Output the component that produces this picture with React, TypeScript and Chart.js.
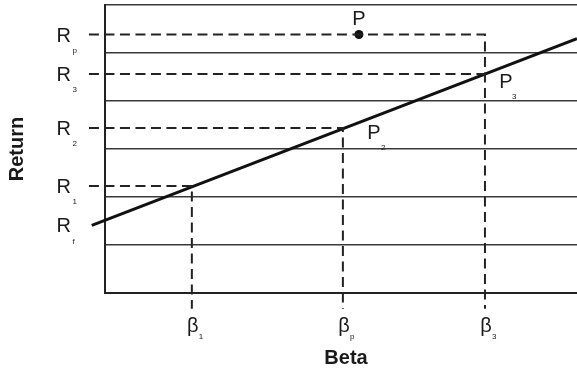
import React, { useEffect, useRef } from 'react';
import { Chart, registerables } from 'chart.js';

Chart.register(...registerables);

// Y axis: return levels (data units; grid at integers 0..6)
const gridReturns = [0, 1, 2, 3, 4, 5, 6];
const returnSubs = ['p', '3', '2', '1', 'f'];
const returnLevels = [5.385, 4.56, 3.44, 2.23, 1.41];
// X axis: beta levels
const betaSubs = ['1', 'p', '3'];
const betaLevels = [1.84, 5.04, 8.05];
// Security market line endpoints
const smlBeta = [-0.28, 10];
const smlReturn = [1.41, 5.3];
// Portfolio P
const pBeta = [5.38];
const pReturn = [5.385];
// Dashed guide extents
const guideLeft = -0.34;
const guideBottom = -0.33;
// Point labels
const pointNames = ['P', 'P', 'P'];
const pointSubs = ['', '2', '3'];

const FONT = '"Liberation Sans", Arial, Helvetica, sans-serif';
const INK = '#1a1a1a';

const [Rp, R3, R2, R1, Rf] = returnLevels;
const [B1, Bp, B3] = betaLevels;

const dashStyle = {
  showLine: true,
  pointRadius: 0,
  borderColor: '#222',
  borderWidth: 2,
  borderDash: [10, 5.5],
  borderCapStyle: 'butt' as const,
  clip: false as any,
  fill: false,
  tension: 0,
};

const labelPlugin = {
  id: 'smlLabels',
  afterDatasetsDraw(chart: any) {
    const { ctx, scales } = chart;
    const x = scales.x;
    const y = scales.y;
    ctx.save();
    ctx.fillStyle = INK;
    ctx.textBaseline = 'middle';
    const main = `20px ${FONT}`;
    const small = `8px ${FONT}`;
    // Return labels
    returnSubs.forEach((s, i) => {
      const py = y.getPixelForValue(returnLevels[i]);
      ctx.font = main;
      ctx.textAlign = 'right';
      ctx.fillText('R', x.left - 34, py + 1.5);
      ctx.font = small;
      ctx.textAlign = 'left';
      ctx.fillText(s, x.left - 32.5, py + 16);
    });
    // Beta labels
    betaSubs.forEach((s, i) => {
      const px = x.getPixelForValue(betaLevels[i]);
      ctx.font = main;
      ctx.textAlign = 'center';
      ctx.fillText('\u03B2', px + 1, y.bottom + 33);
      ctx.font = small;
      ctx.textAlign = 'left';
      ctx.fillText(s, px + 7, y.bottom + 44);
    });
    // Point labels
    const pts = [
      [pBeta[0], pReturn[0], 0, -15, 0, 0],
      [Bp, R2, 31, 6, 38, 20],
      [B3, R3, 21, 8.5, 27, 23],
    ];
    pts.forEach((p, i) => {
      const px = x.getPixelForValue(p[0]);
      const py = y.getPixelForValue(p[1]);
      ctx.font = main;
      ctx.textAlign = 'center';
      ctx.fillText(pointNames[i], px + p[2], py + p[3]);
      if (pointSubs[i]) {
        ctx.font = small;
        ctx.textAlign = 'left';
        ctx.fillText(pointSubs[i], px + p[4], py + p[5]);
      }
    });
    // Axis titles
    ctx.font = `bold 20px ${FONT}`;
    ctx.textAlign = 'center';
    ctx.fillText('Beta', 346, y.bottom + 65);
    ctx.save();
    ctx.translate(17, (y.top + y.bottom) / 2);
    ctx.rotate(-Math.PI / 2);
    ctx.fillText('Return', 0, 0);
    ctx.restore();
    ctx.restore();
  },
};

export default function App() {
  const ref = useRef<HTMLCanvasElement | null>(null);

  useEffect(() => {
    if (!ref.current) return;
    const datasets: any[] = [
      {
        ...dashStyle,
        data: [
          { x: guideLeft, y: Rp },
          { x: B3, y: Rp },
          { x: B3, y: guideBottom },
        ],
      },
      { ...dashStyle, data: [{ x: guideLeft, y: R3 }, { x: B3, y: R3 }] },
      {
        ...dashStyle,
        data: [
          { x: guideLeft, y: R2 },
          { x: Bp, y: R2 },
          { x: Bp, y: guideBottom },
        ],
      },
      {
        ...dashStyle,
        data: [
          { x: guideLeft, y: R1 },
          { x: B1, y: R1 },
          { x: B1, y: guideBottom },
        ],
      },
      {
        showLine: true,
        pointRadius: 0,
        borderColor: '#111',
        borderWidth: 3,
        clip: false,
        data: smlBeta.map((b, i) => ({ x: b, y: smlReturn[i] })),
      },
      {
        showLine: false,
        pointRadius: 4.5,
        pointBackgroundColor: '#111',
        pointBorderColor: '#111',
        pointBorderWidth: 0,
        clip: false,
        data: pBeta.map((b, i) => ({ x: b, y: pReturn[i] })),
      },
    ];
    const chart = new Chart(ref.current, {
      type: 'scatter',
      data: { datasets },
      options: {
        responsive: false,
        animation: false,
        devicePixelRatio: 1,
        layout: { autoPadding: false, padding: { left: 105, top: 5, right: 0, bottom: 75 } },
        plugins: { legend: { display: false }, tooltip: { enabled: false } },
        scales: {
          x: {
            type: 'linear',
            min: 0,
            max: 10,
            ticks: { display: false },
            grid: { display: true, drawTicks: false, color: 'rgba(0,0,0,0)' },
            border: { display: true, color: '#222', width: 2 },
          },
          y: {
            type: 'linear',
            min: gridReturns[0],
            max: gridReturns[gridReturns.length - 1],
            afterBuildTicks: (scale: any) => {
              scale.ticks = gridReturns.map((v) => ({ value: v }));
            },
            ticks: { display: false },
            grid: { display: true, drawTicks: false, color: '#3a3a3a', lineWidth: 1.5 },
            border: { display: true, color: '#222', width: 2 },
          },
        },
      },
      plugins: [labelPlugin],
    });
    return () => chart.destroy();
  }, []);

  return (
    <div style={{ position: 'absolute', left: 0, top: 0, width: 577, height: 368, background: '#fff' }}>
      <canvas ref={ref} width={577} height={368} />
    </div>
  );
}
